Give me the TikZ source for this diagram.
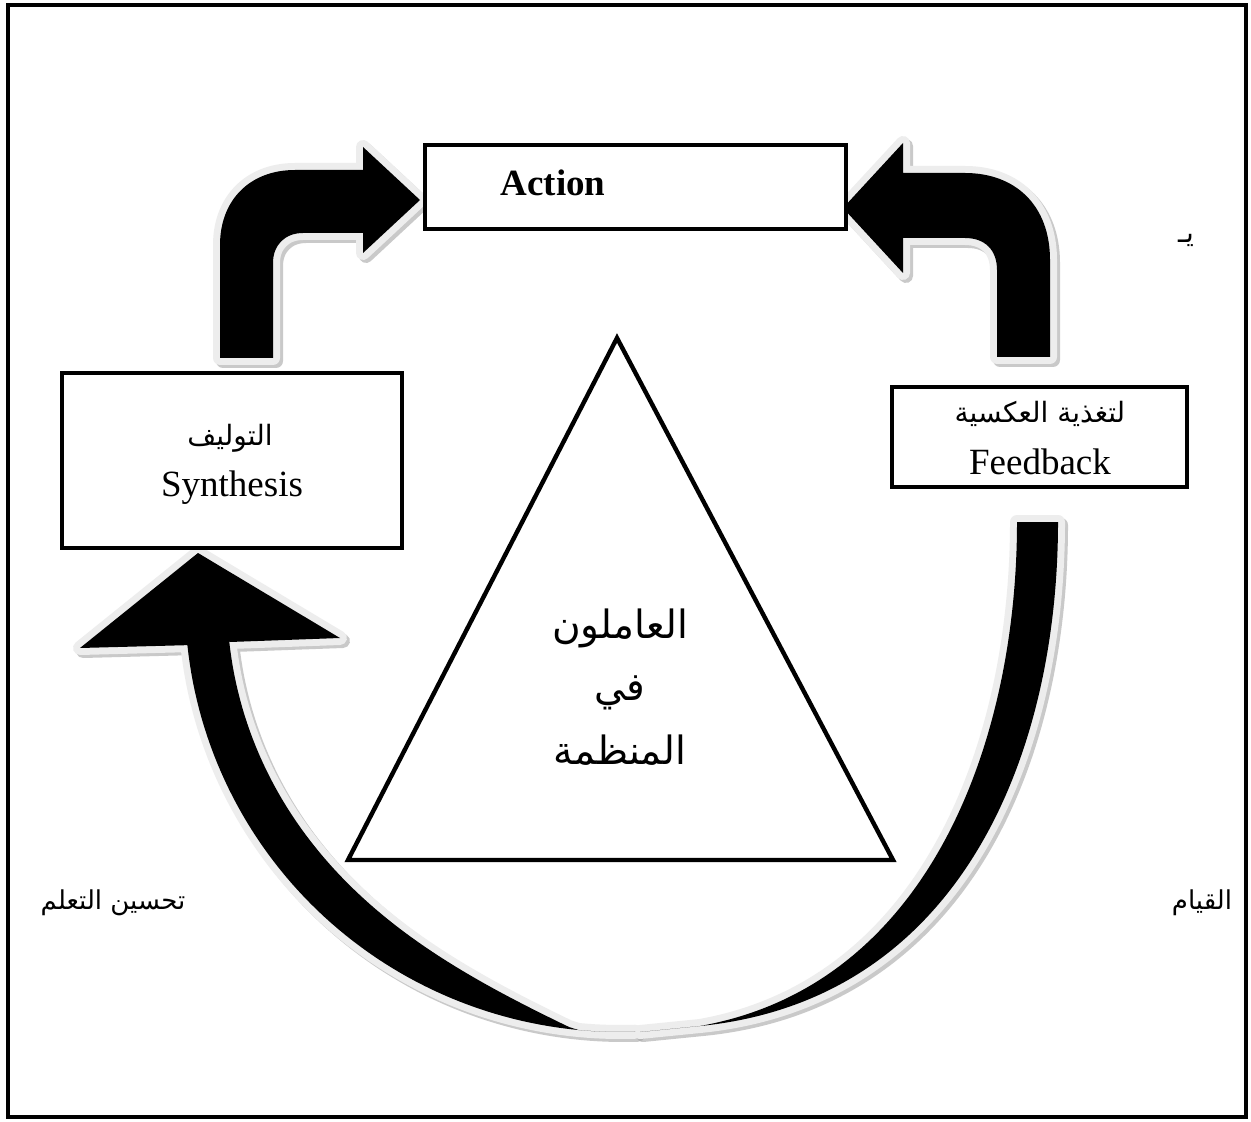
\documentclass[tikz,border=0pt]{standalone}
\usepackage{fontspec}
\setmainfont{Liberation Serif}
\newfontfamily\arabicfont[Script=Arabic]{DejaVu Sans}
\TeXXeTstate=1
\begin{document}
\begin{tikzpicture}[x=0.5pt,y=-0.5pt]
\tikzset{
  box/.style={draw=black, line width=2.3pt, fill=white, inner sep=0pt},
  glow/.style={draw=black!7, line width=7pt, line join=round},
  drop/.style={draw=black!35, fill=black!35, line width=7pt, line join=round, opacity=.6},
  ink/.style={fill=black},
  lat/.style={font=\fontsize{18.5}{22}\selectfont, inner sep=0pt},
  arb/.style={font=\arabicfont\fontsize{14}{17}\selectfont, inner sep=0pt},
  big/.style={font=\arabicfont\fontsize{19.5}{24}\selectfont, inner sep=0pt},
  % bent arrow from Synthesis up to Action
  tlshape/.style={insert path={(220,358) -- (220,245) .. controls (220,200) and (250,170) .. (295,170)
      -- (363,170) -- (363,147) -- (420,200) -- (363,253) -- (363,233) -- (303,233)
      .. controls (285,233) and (273,245) .. (273,263) -- (273,358) -- cycle}},
  % bent arrow from Feedback up to Action
  trshape/.style={insert path={(1050,357) -- (1050,260) .. controls (1050,205) and (1015,173) .. (965,173)
      -- (903,173) -- (903,143) -- (843,208) -- (903,273) -- (903,238) -- (965,238)
      .. controls (985,238) and (997,250) .. (997,270) -- (997,357) -- cycle}},
  % curved arrow rising into Synthesis, tapering to nothing at the bottom
  lbshape/.style={insert path={(198,553) -- (340,638) -- (230,642)
      -- plot[domain=174:88,samples=70] ({620+(435-max(0,42*(1-((174-\x)/78)^5)))*cos(\x)},{600+(432-max(0,42*(1-((174-\x)/78)^5)))*sin(\x)})
      -- plot[domain=88:174,samples=70] ({620+435*cos(\x)},{600+432*sin(\x)})
      -- (80,648) -- cycle}},
  % curved band leaving Feedback
  rbshape/.style={insert path={(1017,522) -- (1058,522) .. controls (1058,755) and (960,1000) .. (700,1026)
      -- (640,1032) -- (700,1026)
      .. controls (930,985) and (1017,740) .. (1017,522) -- cycle}}
}
\useasboundingbox (0,0) rectangle (1251,1122);
\fill[white] (0,0) rectangle (1251,1122);
\draw[line width=2pt] (8,5) rectangle (1246,1117);

% arrows: drop shadow, light rim, black body
\foreach \s in {tlshape,trshape,lbshape,rbshape}{
  \path[drop, shift={(3,3)}, \s];
}
\foreach \s in {rbshape,lbshape,tlshape,trshape}{
  \path[glow, \s];
}
\foreach \s in {rbshape,lbshape,tlshape,trshape}{
  \path[ink, \s];
}

% boxes
\node[box, minimum width=210.5pt, minimum height=42pt] (action) at (635.5,187) {};
\node[lat, font=\bfseries\fontsize{18.5}{22}\selectfont] (actiontxt) at (553,183) {Action};

\node[box, minimum width=170pt, minimum height=87.5pt] (synth) at (232,460.5) {};
\node[arb] (synthar) at (230,438) {\beginR التوليف\endR};
\node[lat] (synthen) at (232,488) {Synthesis};

\node[box, minimum width=147.5pt, minimum height=50pt] (feed) at (1039.5,437) {};
\node[arb] (feedar) at (1040,414) {\beginR لتغذية العكسية\endR};
\node[lat] (feeden) at (1040,462) {Feedback};

% central triangle
\coordinate (apex) at (617,338);
\coordinate (bl) at (348,860);
\coordinate (br) at (893,860);
\draw[line width=2.2pt, line join=miter] (apex) -- (br) -- (bl) -- cycle;
\node[big] (t1) at (620,628) {\beginR العاملون\endR};
\node[big] (t2) at (620,693) {\beginR في\endR};
\node[big] (t3) at (620,750) {\beginR المنظمة\endR};

% side labels
\node[arb, font=\arabicfont\fontsize{14}{16}\selectfont] (ya) at (1186,240) {\beginR يـ\endR};
\node[arb, font=\arabicfont\fontsize{13}{16}\selectfont] (learn) at (113,903) {\beginR تحسين التعلم\endR};
\node[arb, font=\arabicfont\fontsize{13}{16}\selectfont] (act) at (1202,903) {\beginR القيام\endR};
\end{tikzpicture}
\end{document}
